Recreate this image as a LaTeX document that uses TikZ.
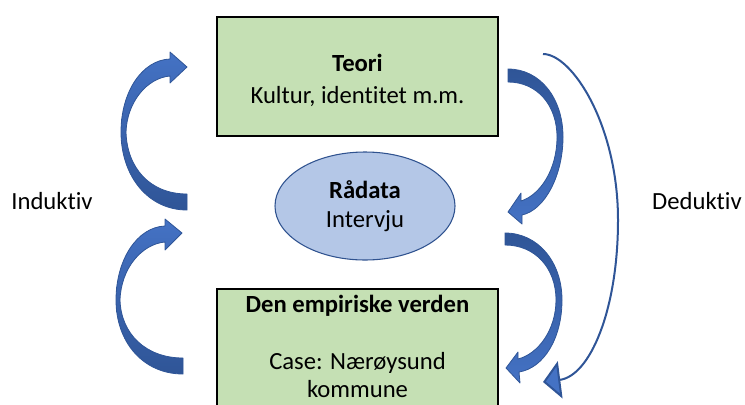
\documentclass[tikz,border=0pt]{standalone}
\usepackage{fontspec}
\setmainfont{Carlito}[Ligatures=NoCommon]
\usepackage{tikz}
\usetikzlibrary{arrows.meta}
\usetikzlibrary{shapes.geometric, positioning}

\definecolor{boxgreen}{HTML}{C5E0B4}
\definecolor{ellblue}{HTML}{B4C7E7}
\definecolor{ellline}{HTML}{2F528F}
\definecolor{arrblue}{HTML}{4472C4}
\definecolor{arrdark}{HTML}{2F5597}

\begin{document}
\begin{tikzpicture}[x=0.75pt, y=-0.75pt,
    font=\fontsize{18.5}{22}\selectfont,
    box/.style={draw=black, line width=2.2pt, fill=boxgreen, minimum width=210.75pt, inner sep=0pt},
    bigarrow/.style={draw=arrdark, line width=0.6pt, line join=round},
    uparrow/.style={bigarrow, top color=arrblue, bottom color=arrdark},
    downarrow/.style={bigarrow, top color=arrdark, bottom color=arrblue}]
      \useasboundingbox (0,0) rectangle (745,404);
      \clip (0,0) rectangle (745,404);

      % boxes and ellipse
      \node[box, minimum height=89.25pt] (teori) at (357.5,76.5) {};
      \node[align=center, inner sep=0pt] (teoritxt) at ([yshift=-3pt]teori.center) {\textbf{Teori}\\[1.5pt]Kultur, identitet m.m.};
      \node[box, minimum height=105pt] (verden) at (357.5,359) {};
      \node[anchor=north, align=center, inner sep=0pt] (verdentxt) at (357.5,295) {\textbf{Den empiriske verden}\\[21pt]Case: Nærøysund\\[-1pt]kommune};
      \node[ellipse, draw=ellline, line width=0.8pt, fill=ellblue, minimum width=135pt, minimum height=81pt, inner sep=0pt, align=center] (raadata) at (365,206) {\textbf{Rådata}\\Intervju};

      \node (induktiv) at (52,201) {Induktiv};
      \node (deduktiv) at (697,201) {Deduktiv};

      % induktiv arrows
      \draw[uparrow] (187,210) .. controls (148,210) and (121,176) .. (121,132) .. controls (121,92) and (142,60) .. (170,59) -- (170,52) -- (187,67) -- (170,83) -- (170,76) .. controls (147,78) and (127,102) .. (126,132) .. controls (127,168) and (150,194) .. (187,194) -- cycle;
      \draw[uparrow] (183,374) .. controls (143,374) and (116,342) .. (116,300) .. controls (116,260) and (137,227) .. (165,226) -- (165,219) -- (182,233) -- (165,250) -- (165,242) .. controls (142,244) and (121,268) .. (120,300) .. controls (121,334) and (146,358) .. (183,358) -- cycle;

      % deduktiv arrows
      \draw[downarrow] (508,69) .. controls (540,69) and (563,98) .. (563,137) .. controls (563,175) and (545,210) .. (522,215) -- (522,224) -- (508,212) -- (521,193) -- (521,201) .. controls (540,195) and (557,170) .. (557,137) .. controls (557,105) and (537,82) .. (508,82) -- cycle;
      \draw[downarrow] (505,233) .. controls (538,233) and (562,262) .. (562,300) .. controls (562,338) and (544,368) .. (519,372) -- (520,383) -- (506,368) -- (518,352) -- (518,359) .. controls (538,354) and (556,330) .. (556,300) .. controls (556,268) and (535,245) .. (505,245) -- cycle;

      \coordinate (dstart) at (543,54);
      \coordinate (dmid) at (618,220);
      \coordinate (dend) at (543,382);
      \draw[arrdark, line width=1.5pt, -{Triangle[length=13pt, width=28pt, fill=arrblue]}] (dstart) .. controls (572,54) and (618,125) .. (dmid) .. controls (618,310) and (590,376) .. (dend);
    \end{tikzpicture}
\end{document}
